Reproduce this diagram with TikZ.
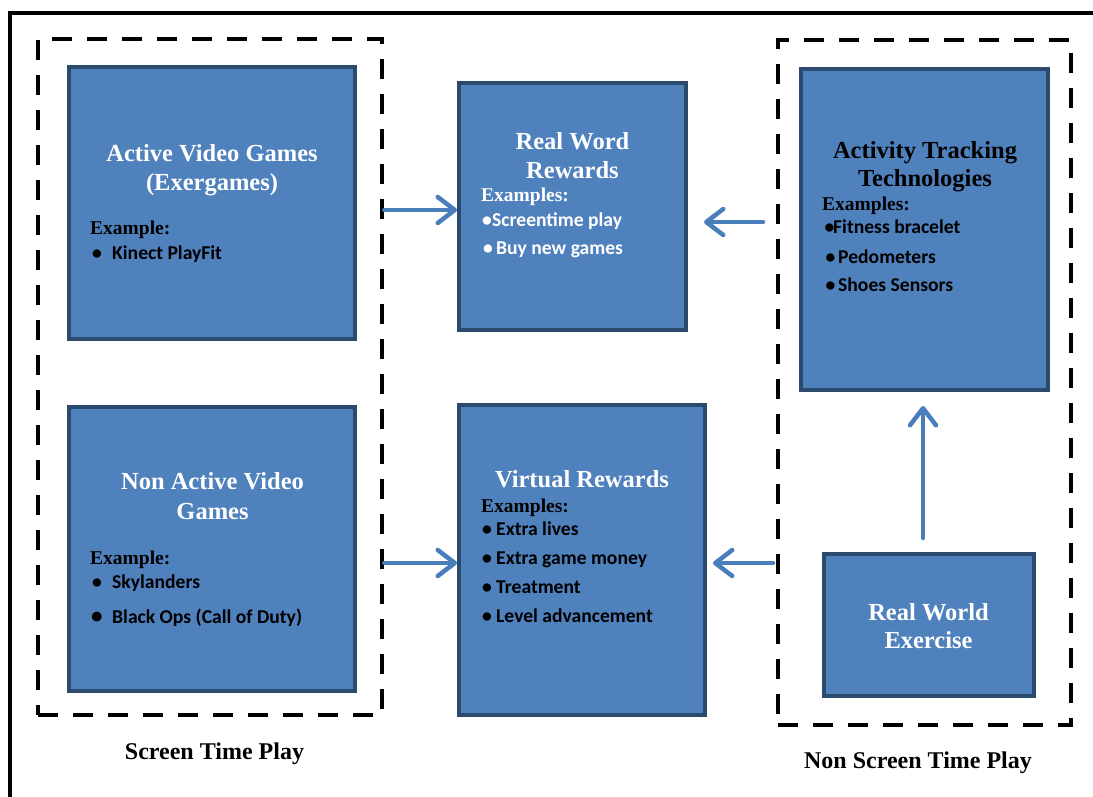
\documentclass[tikz,border=0pt]{standalone}
\usepackage{fontspec}
\setmainfont{Liberation Serif}
\newfontfamily\calibfont{Carlito}
\usetikzlibrary{arrows.meta}
\definecolor{boxfill}{HTML}{4F81BD}
\definecolor{boxline}{HTML}{2A4A6E}
\definecolor{arrowc}{HTML}{4A7EBB}
\newcommand{\bul}[1]{\llap{\makebox[#1pt][l]{•}}}
\begin{document}
\begin{tikzpicture}[x=1pt,y=-1pt,
  box/.style={draw=boxline, fill=boxfill, line width=4pt, inner sep=0pt, rectangle},
  grp/.style={draw=black, line width=4.5pt, dash pattern=on 20pt off 15pt, inner sep=0pt, rectangle},
  ttl/.style={font=\fontsize{24.5}{29}\selectfont\bfseries, anchor=base, inner sep=0pt},
  exl/.style={font=\fontsize{19.5}{23}\selectfont\bfseries, anchor=base west, inner sep=0pt},
  itm/.style={font=\calibfont\fontsize{19.6}{23}\selectfont\bfseries, anchor=base west, inner sep=0pt},
  arr/.style={draw=arrowc, line width=4.5pt, line cap=round, line join=round,
    -{Straight Barb[length=17pt, width=26pt, line cap=round, line join=round]}},
]
\useasboundingbox (0,0) rectangle (1093,796);
\clip (0,0) rectangle (1093,796);
% outer frame
\draw[line width=4.5pt] (10,810) -- (10,13) -- (1110,13);
% groups
\node[grp, minimum width=344pt, minimum height=676pt] (dashL) at (210,377) {};
\node[grp, minimum width=293pt, minimum height=685pt] (dashR) at (924.5,382.5) {};
% boxes
\node[box, minimum width=286pt, minimum height=272pt] (avg) at (212,203) {};
\node[box, minimum width=286pt, minimum height=284pt] (navg) at (212,549) {};
\node[box, minimum width=227pt, minimum height=247pt] (rwr) at (572.5,206.5) {};
\node[box, minimum width=246pt, minimum height=310pt] (vr) at (582,560) {};
\node[box, minimum width=247pt, minimum height=321pt] (att) at (924.5,229.5) {};
\node[box, minimum width=210pt, minimum height=142pt] (rwe) at (929,625) {};
% Active video games
\node[ttl, text=white] (avgT1) at (212,161) {Active Video Games};
\node[ttl, text=white] (avgT2) at (212,190) {(Exergames)};
\node[exl] (avgE) at (90,234) {Example:};
\node[itm] (avgI1) at (112,259) {\bul{20}Kinect PlayFit};
% Non active
\node[ttl, text=white] (navgT1) at (212.5,489) {Non Active Video};
\node[ttl, text=white] (navgT2) at (212.5,519) {Games};
\node[exl] (navgE) at (90,564) {Example:};
\node[itm] (navgI1) at (112,588) {\bul{20}Skylanders};
\node[itm] (navgI2) at (112,623) {\llap{\makebox[21pt][l]{\fontsize{23}{23}\selectfont •}}Black Ops (Call of Duty)};
% Real word rewards
\node[ttl, text=white] (rwrT1) at (572.5,149) {Real Word};
\node[ttl, text=white] (rwrT2) at (572.5,178) {Rewards};
\node[exl, text=white] (rwrE) at (481,201) {Examples:};
\node[itm, text=white] (rwrI1) at (492,226) {\bul{10}Screentime play};
\node[itm, text=white] (rwrI2) at (496,254) {\bul{13}Buy new games};
% Virtual rewards
\node[ttl, text=white] (vrT) at (582,487) {Virtual Rewards};
\node[exl] (vrE) at (481,512) {Examples:};
\node[itm] (vrI1) at (496,535) {\bul{14}Extra lives};
\node[itm] (vrI2) at (496,564) {\bul{14}Extra game money};
\node[itm] (vrI3) at (496,593) {\bul{14}Treatment};
\node[itm] (vrI4) at (496,622) {\bul{14}Level advancement};
% Activity tracking
\node[ttl] (attT1) at (925,158) {Activity Tracking};
\node[ttl] (attT2) at (925,186) {Technologies};
\node[exl] (attE) at (822,210) {Examples:};
\node[itm] (attI1) at (833,233) {\bul{8.5}Fitness bracelet};
\node[itm] (attI2) at (838,263) {\bul{12.5}Pedometers};
\node[itm] (attI3) at (838,291) {\bul{12.5}Shoes Sensors};
% Real world exercise
\node[ttl, text=white] (rweT1) at (928.5,620) {Real World};
\node[ttl, text=white] (rweT2) at (928.5,648) {Exercise};
% captions
\node[ttl, font=\fontsize{24}{28}\selectfont\bfseries] (capL) at (214.5,759) {Screen Time Play};
\node[ttl, font=\fontsize{24}{28}\selectfont\bfseries] (capR) at (918,768) {Non Screen Time Play};
% arrows
\coordinate (a2s) at (763,222);
\coordinate (a4s) at (773,563);
\coordinate (a5s) at (923,538);
\draw[arr] (dashL.east |- 0,210) -- (rwr.west |- 0,210);
\draw[arr, shorten >=16pt] (a2s) -- (rwr.east |- a2s);
\draw[arr] (dashL.east |- 0,563) -- (vr.west |- 0,563);
\draw[arr, shorten >=6pt] (a4s) -- (vr.east |- a4s);
\draw[arr, shorten >=14pt] (a5s) -- (att.south -| a5s);
\end{tikzpicture}
\end{document}
